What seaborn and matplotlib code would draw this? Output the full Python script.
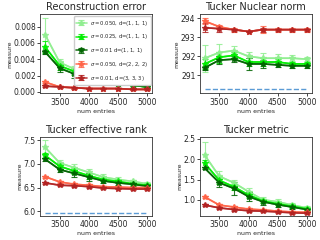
import numpy as np
import pandas as pd
import matplotlib
matplotlib.use("Agg")
import matplotlib.pyplot as plt
import seaborn as sns

sns.set_style("ticks")
plt.rcParams['font.family'] = ['DejaVu Sans']

num_entries = [3250, 3500, 3750, 4000, 4250, 4500, 4750, 5000]
labels = [r"$\sigma = 0.050$, d=(1, 1, 1)", r"$\sigma = 0.025$, d=(1, 1, 1)",
          r"$\sigma = 0.01$ d=(1, 1, 1)", r"$\sigma = 0.050$, d=(2, 2, 2)",
          r"$\sigma = 0.01$, d=(3, 3, 3)"]
colors = ["#90ee90", "#00ee00", "#006400", "#ff6347", "#b22222"]

recon_mean = [
    [0.0070, 0.0036, 0.0028, 0.0019, 0.0012, 0.0010, 0.0008, 0.0007],
    [0.0055, 0.0032, 0.0025, 0.0017, 0.0011, 0.0010, 0.0008, 0.0006],
    [0.0049, 0.0029, 0.0022, 0.0016, 0.0011, 0.0009, 0.0008, 0.0006],
    [0.0012, 0.0006, 0.0005, 0.0004, 0.0004, 0.0004, 0.0003, 0.0003],
    [0.0007, 0.0006, 0.0005, 0.0004, 0.0004, 0.0004, 0.0003, 0.0003],
]
recon_err = [
    [0.0021, 0.0004, 0.0004, 0.0003, 0.0002, 0.0002, 0.0001, 0.0001],
    [0.0007, 0.0005, 0.0004, 0.0003, 0.0001, 0.0001, 0.0001, 0.0001],
    [0.0002, 0.0005, 0.0005, 0.0003, 0.0002, 0.0001, 0.0001, 0.0001],
    [0.0001, 0.0001, 0.0001, 0.0001, 0.0001, 0.0001, 0.0001, 0.0001],
    [0.0001, 0.0001, 0.0001, 0.0001, 0.0001, 0.0001, 0.0001, 0.0001],
]
nuc_mean = [
    [291.9, 292.2, 292.3, 292.0, 291.9, 291.9, 291.9, 291.85],
    [291.6, 291.95, 292.05, 291.7, 291.7, 291.7, 291.6, 291.6],
    [291.4, 291.8, 291.85, 291.6, 291.6, 291.55, 291.5, 291.5],
    [293.85, 293.55, 293.4, 293.3, 293.4, 293.4, 293.4, 293.4],
    [293.5, 293.45, 293.4, 293.3, 293.4, 293.4, 293.4, 293.4],
]
nuc_err = [
    [0.7, 0.45, 0.25, 0.25, 0.25, 0.2, 0.15, 0.1],
    [0.25, 0.3, 0.2, 0.2, 0.2, 0.15, 0.1, 0.1],
    [0.1, 0.2, 0.15, 0.3, 0.2, 0.1, 0.1, 0.1],
    [0.15, 0.1, 0.1, 0.05, 0.2, 0.1, 0.1, 0.1],
    [0.25, 0.15, 0.05, 0.05, 0.1, 0.05, 0.05, 0.05],
]
nuc_base = 290.3
rank_mean = [
    [7.35, 7.02, 6.92, 6.82, 6.72, 6.67, 6.63, 6.58],
    [7.18, 6.95, 6.85, 6.75, 6.67, 6.63, 6.58, 6.55],
    [7.10, 6.88, 6.80, 6.72, 6.64, 6.60, 6.57, 6.53],
    [6.73, 6.62, 6.57, 6.55, 6.52, 6.51, 6.50, 6.50],
    [6.60, 6.55, 6.54, 6.52, 6.49, 6.48, 6.47, 6.47],
]
rank_err = [
    [0.16, 0.06, 0.08, 0.08, 0.06, 0.05, 0.04, 0.03],
    [0.05, 0.06, 0.06, 0.06, 0.04, 0.03, 0.03, 0.02],
    [0.03, 0.06, 0.07, 0.08, 0.05, 0.04, 0.03, 0.02],
    [0.02, 0.02, 0.02, 0.02, 0.02, 0.02, 0.02, 0.02],
    [0.02, 0.02, 0.02, 0.02, 0.02, 0.02, 0.02, 0.02],
]
rank_base = 5.96
tm_mean = [
    [2.10, 1.58, 1.42, 1.20, 1.00, 0.95, 0.87, 0.80],
    [1.90, 1.48, 1.32, 1.12, 0.97, 0.90, 0.84, 0.78],
    [1.78, 1.42, 1.28, 1.08, 0.95, 0.88, 0.82, 0.76],
    [1.07, 0.87, 0.82, 0.77, 0.75, 0.72, 0.70, 0.69],
    [0.87, 0.80, 0.76, 0.73, 0.72, 0.70, 0.68, 0.67],
]
tm_err = [
    [0.33, 0.12, 0.08, 0.08, 0.07, 0.06, 0.05, 0.04],
    [0.08, 0.10, 0.08, 0.07, 0.05, 0.04, 0.04, 0.03],
    [0.03, 0.10, 0.17, 0.10, 0.07, 0.05, 0.04, 0.03],
    [0.03, 0.03, 0.03, 0.03, 0.03, 0.02, 0.02, 0.02],
    [0.03, 0.03, 0.03, 0.03, 0.03, 0.02, 0.02, 0.02],
]

titles = ["Reconstruction error", "Tucker Nuclear norm", "Tucker effective rank", "Tucker metric"]
means = [recon_mean, nuc_mean, rank_mean, tm_mean]
errs = [recon_err, nuc_err, rank_err, tm_err]
bases = [None, nuc_base, rank_base, None]

fig, axes = plt.subplots(2, 2, figsize=(3.2, 2.4), dpi=100)
for k, ax in enumerate(axes.flat):
    rows = []
    for i, lab in enumerate(labels):
        for x, m in zip(num_entries, means[k][i]):
            rows.append({"num entries": x, "measure": m, "series": lab})
    df = pd.DataFrame(rows)
    sns.lineplot(data=df, x="num entries", y="measure", hue="series",
                 palette=colors, marker="*", markersize=4.5, markeredgewidth=0,
                 linewidth=1.2, alpha=0.85, ax=ax, legend=False)
    for i, lab in enumerate(labels):
        ax.errorbar(num_entries, means[k][i], yerr=errs[k][i], fmt="-*",
                    color=colors[i], lw=1.2, ms=4, alpha=0.85,
                    ecolor=colors[i], elinewidth=0.8, capsize=2, capthick=0.8,
                    label=lab)
    if bases[k] is not None:
        ax.plot([num_entries[0], num_entries[-1]], [bases[k], bases[k]],
                ls="--", color="#5b9bd5", lw=1.0)
    ax.set_title(titles[k], fontsize=7, pad=3)
    ax.set_xlabel("num entries", fontsize=4.5, labelpad=1.5)
    ax.set_ylabel("measure", fontsize=4.5, labelpad=1)
    ax.set_xticks([3500, 4000, 4500, 5000])
    ax.tick_params(labelsize=5.5, length=2, width=0.6, pad=1)
    for s in ax.spines.values():
        s.set_linewidth(0.6)
        s.set_color("#333333")

axes[0, 0].set_yticks([0.0, 0.002, 0.004, 0.006, 0.008])
axes[0, 0].set_ylim(-0.0002, 0.0095)
axes[0, 1].set_yticks([291, 292, 293, 294])
axes[0, 1].set_ylim(290.05, 294.2)
axes[1, 0].set_yticks([6.0, 6.5, 7.0, 7.5])
axes[1, 0].set_ylim(5.9, 7.57)
axes[1, 1].set_yticks([1.0, 1.5, 2.0, 2.5])
axes[1, 1].set_ylim(0.6, 2.55)

axes[0, 0].legend(fontsize=3.8, loc="upper right", handlelength=2.0,
                  borderpad=0.5, labelspacing=0.9, handletextpad=0.6,
                  framealpha=1, borderaxespad=0.3)

fig.subplots_adjust(left=0.125, right=0.975, top=0.94, bottom=0.1,
                    wspace=0.42, hspace=0.55)
fig.savefig("out.png", dpi=100)
